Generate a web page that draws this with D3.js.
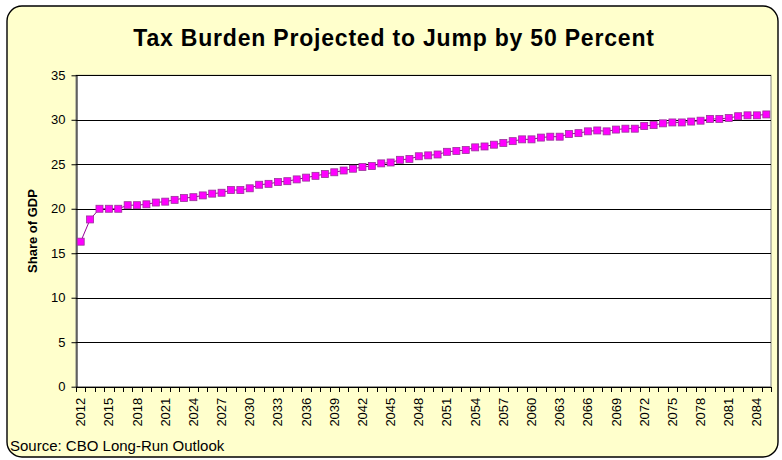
<!DOCTYPE html>
<html>
<head>
<meta charset="utf-8">
<script src="https://cdn.jsdelivr.net/npm/d3@7"></script>
<style>
  body { margin: 0; background: #fff; }
  text { font-family: Arial, "Liberation Sans", sans-serif; }
</style>
</head>
<body>
<svg id="chart" width="782" height="460"></svg>
<script>
// years 2012..2085, share of GDP
var years = d3.range(2012, 2086);
var taxShare = [
  16.3, 18.8, 20.0, 20.0, 20.0, 20.4, 20.4, 20.5, 20.7, 20.8,
  21.0, 21.2, 21.3, 21.5, 21.7, 21.8, 22.1, 22.1, 22.3, 22.7,
  22.8, 23.0, 23.1, 23.3, 23.5, 23.7, 23.9, 24.1, 24.3, 24.5,
  24.7, 24.8, 25.1, 25.2, 25.5, 25.6, 25.9, 26.0, 26.1, 26.4,
  26.5, 26.6, 26.9, 27.0, 27.2, 27.4, 27.6, 27.8, 27.8, 28.0,
  28.1, 28.1, 28.4, 28.5, 28.7, 28.8, 28.7, 28.9, 29.0, 29.0,
  29.3, 29.4, 29.6, 29.7, 29.7, 29.8, 29.9, 30.1, 30.1, 30.2,
  30.4, 30.5, 30.5, 30.6
];
var yTicks = [0, 5, 10, 15, 20, 25, 30, 35];
var xLabelYears = years.filter(function(y) { return (y - 2012) % 3 === 0; });

var titleText = "Tax Burden Projected to Jump by 50 Percent";
var yTitle = "Share of GDP";
var sourceText = "Source: CBO Long-Run Outlook";

var svg = d3.select("#chart");
var plot = { left: 76, right: 771, top: 75.3, bottom: 386.7 };

// chart frame
svg.append("rect")
  .attr("x", 7).attr("y", 6)
  .attr("width", 771).attr("height", 451)
  .attr("rx", 15).attr("ry", 15)
  .attr("fill", "#ffffcc")
  .attr("stroke", "#000")
  .attr("stroke-width", 1.4);

var x = d3.scaleBand()
  .domain(years)
  .range([plot.left, plot.right]);

var y = d3.scaleLinear()
  .domain([0, 35])
  .range([plot.bottom, plot.top]);

// plot area
svg.append("rect")
  .attr("x", plot.left).attr("y", plot.top)
  .attr("width", plot.right - plot.left)
  .attr("height", plot.bottom - plot.top)
  .attr("fill", "#fff")
  .attr("stroke", "#808080")
  .attr("stroke-width", 1);

// gridlines
svg.append("g")
  .selectAll("line")
  .data(yTicks.filter(function(d) { return d > 0; }))
  .join("line")
  .attr("x1", plot.left).attr("x2", plot.right)
  .attr("y1", function(d) { return Math.round(y(d)) + 0.5; })
  .attr("y2", function(d) { return Math.round(y(d)) + 0.5; })
  .attr("stroke", "#000")
  .attr("stroke-width", 1);

// y axis
var yAxis = svg.append("g")
  .attr("transform", "translate(" + (plot.left + 0.5) + ",0)")
  .call(d3.axisLeft(y).tickValues(yTicks).tickSize(5).tickSizeOuter(0).tickPadding(6));
yAxis.selectAll("text").attr("font-size", "13px").attr("font-family", "Arial, 'Liberation Sans', sans-serif").attr("fill", "#000");
yAxis.selectAll("line, path").attr("stroke", "#000");

// x axis line and ticks between categories
var xAxis = svg.append("g");
xAxis.append("line")
  .attr("x1", plot.left).attr("x2", plot.right)
  .attr("y1", Math.round(y(0)) + 0.5).attr("y2", Math.round(y(0)) + 0.5)
  .attr("stroke", "#000");
xAxis.selectAll("line.tick")
  .data(years.concat([null]))
  .join("line")
  .attr("class", "tick")
  .attr("x1", function(d) { return Math.round(d === null ? plot.right : x(d)) + 0.5; })
  .attr("x2", function(d) { return Math.round(d === null ? plot.right : x(d)) + 0.5; })
  .attr("y1", Math.round(y(0)))
  .attr("y2", Math.round(y(0)) + 5)
  .attr("stroke", "#000");

xAxis.selectAll("text")
  .data(xLabelYears)
  .join("text")
  .attr("transform", function(d) {
    return "translate(" + (x(d) + x.bandwidth() / 2 + 4.5) + "," + (y(0) + 11) + ") rotate(-90)";
  })
  .attr("text-anchor", "end")
  .attr("font-size", "13px")
  .text(function(d) { return d; });

// series
var pts = years.map(function(yr, i) { return { year: yr, value: taxShare[i] }; });
var line = d3.line()
  .x(function(d) { return x(d.year) + x.bandwidth() / 2; })
  .y(function(d) { return y(d.value); });

svg.append("path")
  .datum(pts)
  .attr("d", line)
  .attr("fill", "none")
  .attr("stroke", "#990099")
  .attr("stroke-width", 1);

svg.append("g")
  .selectAll("rect")
  .data(pts)
  .join("rect")
  .attr("x", function(d) { return x(d.year) + x.bandwidth() / 2 - 3.5; })
  .attr("y", function(d) { return y(d.value) - 3.5; })
  .attr("width", 7).attr("height", 7)
  .attr("fill", "#ff00ff")
  .attr("stroke", "#993399")
  .attr("stroke-width", 0.8);

// titles
svg.append("text")
  .attr("x", 394).attr("y", 46)
  .attr("text-anchor", "middle")
  .attr("font-size", "23px")
  .attr("font-weight", "bold")
  .attr("letter-spacing", "0.8px")
  .text(titleText);

svg.append("text")
  .attr("transform", "translate(37,231) rotate(-90)")
  .attr("text-anchor", "middle")
  .attr("font-size", "13px")
  .attr("font-weight", "bold")
  .text(yTitle);

svg.append("text")
  .attr("x", 10).attr("y", 451)
  .attr("font-size", "15px")
  .text(sourceText);
</script>
</body>
</html>
